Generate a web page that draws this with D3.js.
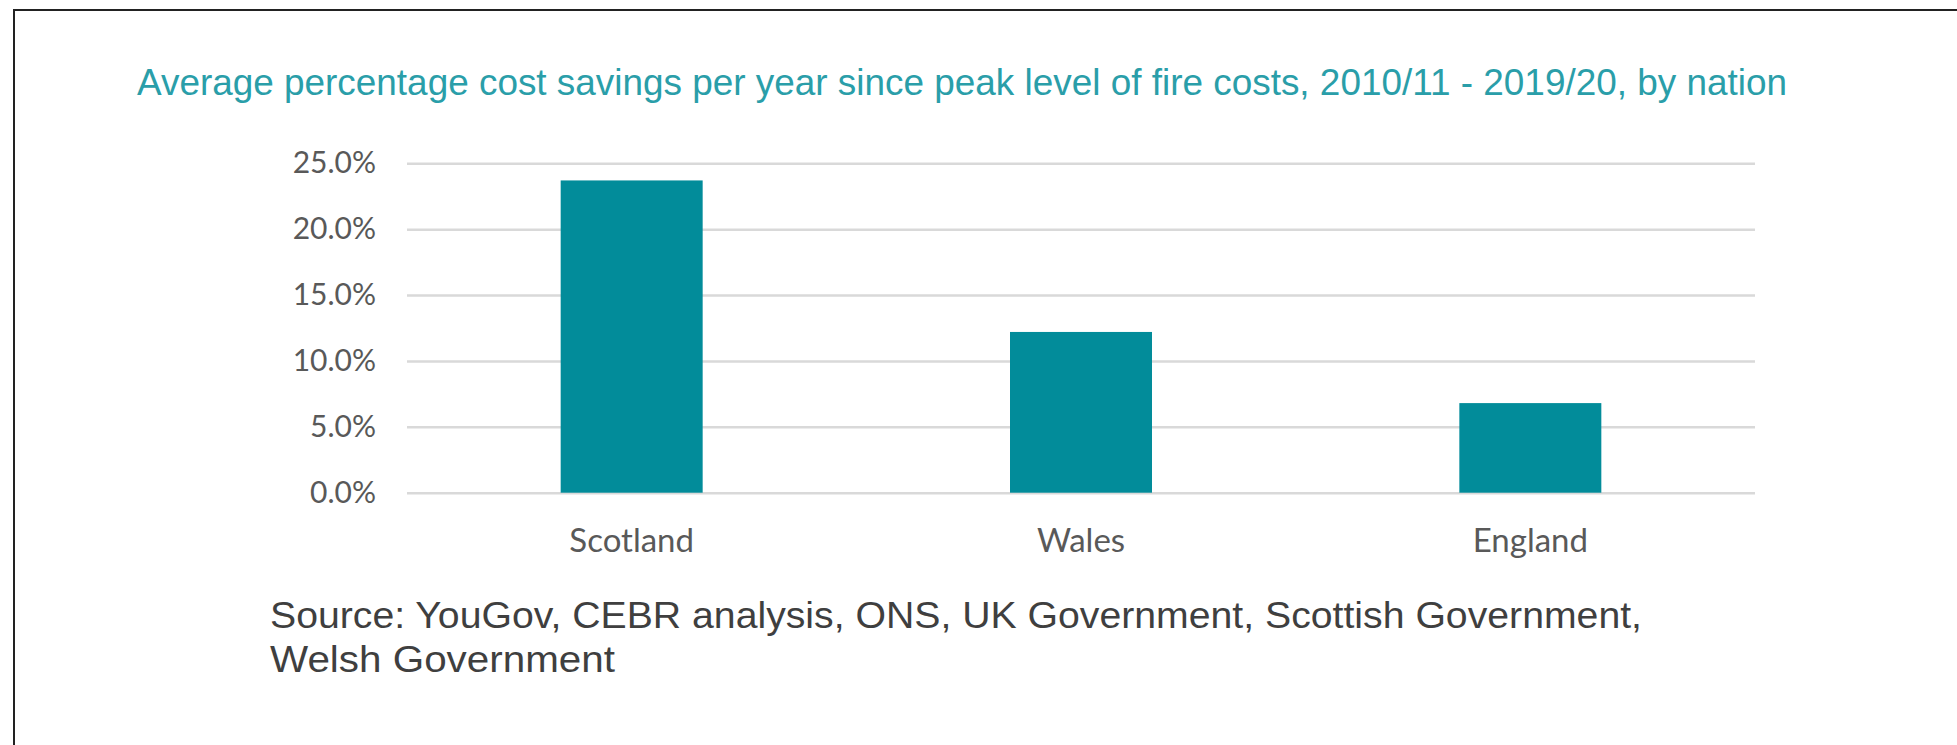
<!DOCTYPE html>
<html>
<head>
<meta charset="utf-8">
<script src="https://d3js.org/d3.v7.min.js"></script>
<style>
* {
    padding: 0px;
    margin: 0px;
}
body {
    background: #fff;
}
.tick text {
    font-family: Lato, 'Open Sans', sans-serif;
    fill: #595959;
}
</style>
</head>
<body>
<svg width="1957" height="745"></svg>

<script>
// chart data
const nations = ["Scotland", "Wales", "England"]
const savings = [23.7, 12.2, 6.8]
const yTicks = [0, 5, 10, 15, 20, 25]

const titleText = "Average percentage cost savings per year since peak level of fire costs, 2010/11 - 2019/20, by nation"
const sourceLines = [
    "Source: YouGov, CEBR analysis, ONS, UK Government, Scottish Government,",
    "Welsh Government"
]

const svg = d3.select("svg")

// frame of the screenshot (left + top edge only)
svg.append("path")
    .attr("d", "M14,745 L14,10 L1957,10")
    .attr("fill", "none")
    .attr("stroke", "#222")
    .attr("stroke-width", 2)

const plot = {left: 407, right: 1755, top: 163.3, bottom: 492.7}

const x = d3.scaleBand()
    .domain(nations)
    .range([plot.left, plot.right])
    .paddingInner(0.684)
    .paddingOuter(0.342)

const y = d3.scaleLinear()
    .domain([0, 25])
    .range([plot.bottom, plot.top])

// gridlines + y labels
let yAxis = svg.append("g")
    .attr("transform", "translate(" + plot.left + ",0)")
    .call(d3.axisLeft(y)
        .tickValues(yTicks)
        .tickSize(-(plot.right - plot.left))
        .tickPadding(31)
        .tickFormat(d => d.toFixed(1) + "%"))
yAxis.select(".domain").remove()
yAxis.selectAll(".tick line")
    .attr("stroke", "#d9d9d9")
    .attr("stroke-width", 2.5)
yAxis.selectAll(".tick text")
    .attr("font-size", 30)

// bars
svg.append("g")
    .selectAll("rect")
    .data(nations)
    .join("rect")
    .attr("x", d => x(d))
    .attr("width", x.bandwidth())
    .attr("y", (d, i) => y(savings[i]))
    .attr("height", (d, i) => y(0) - y(savings[i]))
    .attr("fill", "#028c9a")

// category labels
let xAxis = svg.append("g")
    .attr("transform", "translate(0," + plot.bottom + ")")
    .call(d3.axisBottom(x).tickSize(0).tickPadding(36))
xAxis.select(".domain").remove()
xAxis.selectAll(".tick text")
    .attr("font-size", 33)

// squeeze a line into the width it has in the picture
function squeeze(sel, size, width) {
    sel.attr("font-size", size)
        .attr("textLength", width)
        .attr("lengthAdjust", "spacingAndGlyphs")
}

let title = svg.append("text")
    .attr("x", 137)
    .attr("y", 95)
    .attr("font-family", "'Liberation Sans', Arial, sans-serif")
    .attr("fill", "#2a9ea9")
    .text(titleText)
squeeze(title, 36, 1650)

let src = svg.append("g")
    .attr("font-family", "'Liberation Sans', Arial, sans-serif")
    .attr("fill", "#3f3f3f")
let line1 = src.append("text")
    .attr("x", 270)
    .attr("y", 628)
    .text(sourceLines[0])
squeeze(line1, 36, 1372)
let line2 = src.append("text")
    .attr("x", 270)
    .attr("y", 672)
    .text(sourceLines[1])
squeeze(line2, 36, 345)
</script>
</body>
</html>
